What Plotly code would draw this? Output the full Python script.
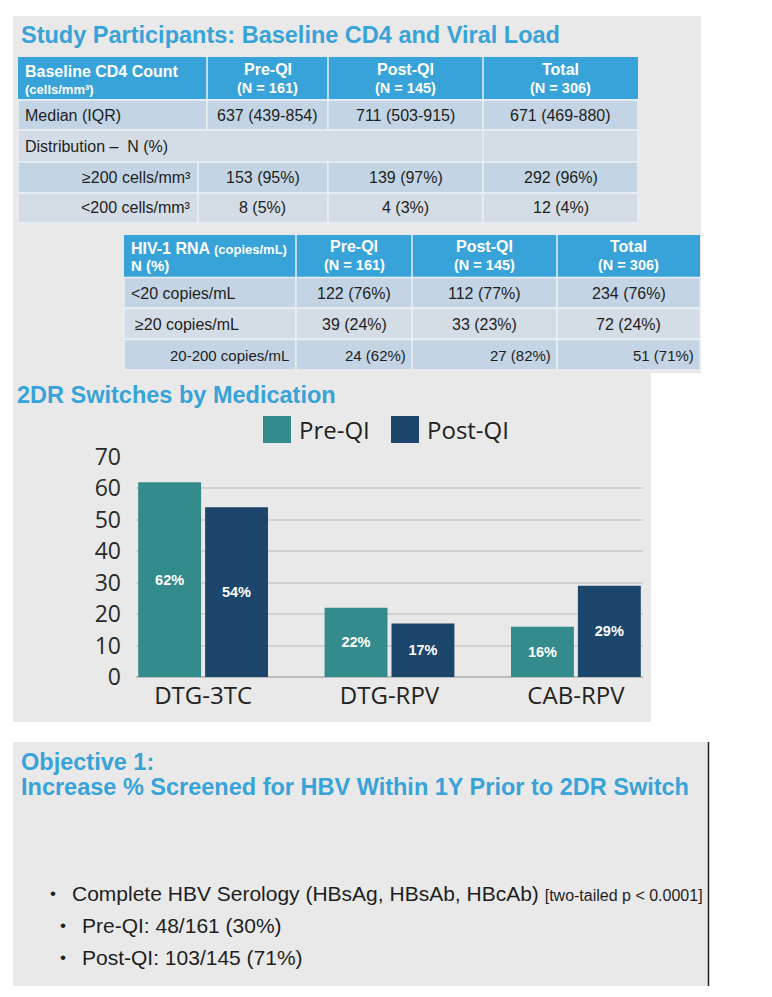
import plotly.graph_objects as go

# ---------------- data ----------------
cd4_header = ["Baseline CD4 Count", "Pre-QI", "Post-QI", "Total"]
group_n = ["(N = 161)", "(N = 145)", "(N = 306)"]
cd4_median = ["Median (IQR)", "637 (439-854)", "711 (503-915)", "671 (469-880)"]
cd4_dist_label = "Distribution \u2013  N (%)"
cd4_ge200 = ["\u2265200 cells/mm\u00b3", "153 (95%)", "139 (97%)", "292 (96%)"]
cd4_lt200 = ["<200 cells/mm\u00b3", "8 (5%)", "4 (3%)", "12 (4%)"]

hiv_lt20 = ["<20 copies/mL", "122 (76%)", "112 (77%)", "234 (76%)"]
hiv_ge20 = ["\u226520 copies/mL", "39 (24%)", "33 (23%)", "72 (24%)"]
hiv_20_200 = ["20-200 copies/mL", "24 (62%)", "27 (82%)", "51 (71%)"]

medications = ["DTG-3TC", "DTG-RPV", "CAB-RPV"]
series_names = ["Pre-QI", "Post-QI"]
pre_qi = [62, 22, 16]
post_qi = [54, 17, 29]

screen_pre = (48, 161)
screen_post = (103, 145)

# ---------------- geometry (page pixels; the page body has an 8px margin) ----
OFF = 8
W, H = 772 - OFF, 997 - OFF

# ---------------- styles ----------------
BLUE_T = "#37a3d8"
HDR = "#38a3d9"
ROW_A = "#c3d5e4"
ROW_B = "#d4dce5"
PANEL = "#e9e9e9"
TEAL = "#348b8b"
NAVY = "#1d466d"
ARIAL = "Liberation Sans, Arial, sans-serif"
GEO = "Open Sans, sans-serif"
TXT = "#1e1e1e"

shapes = []
annotations = []


def px(x):
    return (x - OFF) / W


def py(y):
    return 1 - (y - OFF) / H


def rect(x0, y0, x1, y1, color, line_color=None, lw=0, layer="below"):
    shapes.append(dict(type="rect", xref="paper", yref="paper",
                       x0=px(x0), x1=px(x1), y0=py(y1), y1=py(y0),
                       fillcolor=color,
                       line=dict(width=lw, color=line_color or color),
                       layer=layer))


def vline(x, y0, y1, color, lw=1):
    shapes.append(dict(type="line", xref="paper", yref="paper",
                       x0=px(x), x1=px(x), y0=py(y1), y1=py(y0),
                       line=dict(width=lw, color=color), layer="below"))


def text(x, y, s, size, color=TXT, anchor="left", family=ARIAL, bold=False):
    if bold:
        s = "<b>" + s + "</b>"
    annotations.append(dict(xref="paper", yref="paper", x=px(x), y=py(y),
                            text=s, showarrow=False, xanchor=anchor,
                            yanchor="middle",
                            font=dict(size=size, color=color, family=family)))


def esc(s):
    return s.replace("<", "&lt;")


# ---------------- background panels ----------------
rect(13, 16, 701, 373, PANEL)
rect(13, 373, 651, 722, PANEL)
rect(13, 742, 708, 986, PANEL)
vline(708.5, 742, 986, "#222222", 1.5)

# ---------------- title 1 ----------------
text(19, 35, "Study Participants: Baseline CD4 and Viral Load", 23.5, BLUE_T, bold=True)

# ---------------- table 1 ----------------
SEP = "#e9eef2"
BODY = 16
xs1 = [18, 207, 328, 483, 638]
rect(xs1[0], 57, xs1[-1], 99, HDR)
for xx in xs1[1:-1]:
    vline(xx, 57, 99, "#e6f1f8", 1.5)
text(23, 71, cd4_header[0], 16, "white", bold=True)
text(23, 89, "(cells/mm\u00b3)", 13, "white", bold=True)
for i in range(3):
    cx = (xs1[i + 1] + xs1[i + 2]) / 2
    text(cx, 70, cd4_header[i + 1], 16, "white", "center", bold=True)
    text(cx, 88, group_n[i], 14.5, "white", "center", bold=True)

# median row
for i in range(4):
    rect(xs1[i], 100, xs1[i + 1], 130, ROW_A, SEP, 1.5)
text(23, 115, cd4_median[0], BODY)
for i in range(3):
    text((xs1[i + 1] + xs1[i + 2]) / 2, 115, cd4_median[i + 1], BODY, anchor="center")
# distribution row
rect(xs1[0], 130, xs1[-1], 162, ROW_B, SEP, 1.5)
vline(483, 130, 162, SEP, 1.5)
text(23, 146, cd4_dist_label, BODY)
# >=200, <200
xs1b = [18, 198, 328, 483, 638]
for row, (y0, y1, col) in zip([cd4_ge200, cd4_lt200], [(162, 193, ROW_A), (193, 223, ROW_B)]):
    for i in range(4):
        rect(xs1b[i], y0, xs1b[i + 1], y1, col, SEP, 1.5)
    yc = (y0 + y1) / 2
    text(193, yc, esc(row[0]), BODY, anchor="right")
    for i in range(3):
        text((xs1b[i + 1] + xs1b[i + 2]) / 2, yc, row[i + 1], BODY, anchor="center")

# ---------------- table 2 ----------------
xs2 = [124, 296, 412, 557, 700]
rect(xs2[0], 235, xs2[-1], 277, HDR)
for xx in xs2[1:-1]:
    vline(xx, 235, 277, "#e6f1f8", 1.5)
text(129, 248, "HIV-1 RNA <span style='font-size:13px'>(copies/mL)</span>", 16, "white", bold=True)
text(129, 265, "N (%)", 15, "white", bold=True)
for i in range(3):
    cx = (xs2[i + 1] + xs2[i + 2]) / 2
    text(cx, 247, cd4_header[i + 1], 16, "white", "center", bold=True)
    text(cx, 265, group_n[i], 14.5, "white", "center", bold=True)

rows2 = [(hiv_lt20, 277, 308, ROW_A), (hiv_ge20, 308, 339, ROW_B), (hiv_20_200, 339, 370, ROW_A)]
for k, (row, y0, y1, col) in enumerate(rows2):
    for i in range(4):
        rect(xs2[i], y0 + 0.5, xs2[i + 1], y1, col, SEP, 1.5)
    yc = (y0 + y1) / 2 + 1
    if k == 0:
        text(129, yc, esc(row[0]), BODY)
    elif k == 1:
        text(133, yc, esc(row[0]), BODY)
    else:
        text(291, yc, esc(row[0]), 15, anchor="right")
    for i in range(3):
        if k == 2:
            text(xs2[i + 2] - 4, yc, row[i + 1], 15, anchor="right")
        else:
            text((xs2[i + 1] + xs2[i + 2]) / 2, yc, row[i + 1], BODY, anchor="center")

# ---------------- chart title & legend ----------------
text(15, 395, "2DR Switches by Medication", 23.5, BLUE_T, bold=True)
for name, col, bx in zip(series_names, [TEAL, NAVY], [263, 391]):
    rect(bx, 416, bx + 28, 443, col)
    text(bx + 34, 429, name, 24, "#222222", family=GEO)

# ---------------- bar chart ----------------
fig = go.Figure()
for name, vals, col in zip(series_names, [pre_qi, post_qi], [TEAL, NAVY]):
    fig.add_trace(go.Bar(
        x=medications, y=vals, name=name, marker=dict(color=col, line=dict(width=0)),
        text=[f"{v}%" for v in vals], texttemplate="<b>%{text}</b>",
        textposition="inside", insidetextanchor="middle", textangle=0,
        constraintext="none",
        textfont=dict(color="white", size=14.5, family=ARIAL),
        showlegend=False,
    ))

# ---------------- objective panel ----------------
text(19, 762, "Objective 1:", 23.5, BLUE_T, bold=True)
text(19, 787, "Increase % Screened for HBV Within 1Y Prior to 2DR Switch", 23.5, BLUE_T, bold=True)
text(53, 893, "\u2022", 17, anchor="center")
text(70, 893, "Complete HBV Serology (HBsAg, HBsAb, HBcAb) "
     "<span style='font-size:16px'>[two-tailed p &lt; 0.0001]</span>", 21)
for (num, den), lab, yy in zip([screen_pre, screen_post], series_names, [925, 957]):
    text(63, yy, "\u2022", 17, anchor="center")
    text(80, yy, f"{lab}: {num}/{den} ({round(100 * num / den)}%)", 21)

fig.update_layout(
    width=W, height=H, autosize=False,
    margin=dict(l=0, r=0, t=0, b=0, pad=0, autoexpand=False),
    paper_bgcolor="white", plot_bgcolor="rgba(0,0,0,0)",
    barmode="group", bargap=0.282, bargroupgap=0.06,
    shapes=shapes, annotations=annotations,
    showlegend=False,
    xaxis=dict(domain=[px(136), px(643)], range=[-0.36, 2.36], showgrid=False,
               zeroline=False, showline=False, ticks="", automargin=False,
               tickfont=dict(size=24, color="#222222", family=GEO),
               ticklabelstandoff=2, fixedrange=True),
    yaxis=dict(domain=[py(677), py(457)], range=[0, 70], dtick=10,
               showgrid=True, gridcolor="#d2d2d2", gridwidth=1.5,
               zeroline=True, zerolinecolor="#bcbcbc", zerolinewidth=2,
               showline=False, ticks="", automargin=False,
               tickfont=dict(size=23, color="#2a2a2a", family=GEO),
               ticklabelstandoff=14, fixedrange=True),
)

fig.write_html("out.html")
